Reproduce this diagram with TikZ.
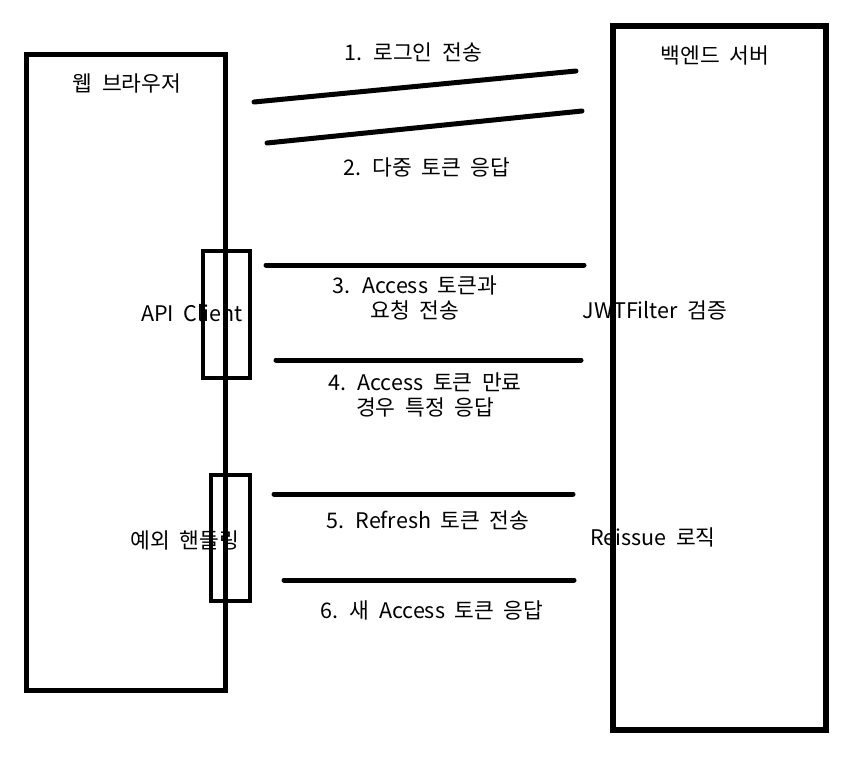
\documentclass[tikz,border=0pt]{standalone}
\usepackage{fontspec}
\setmainfont{Noto Sans CJK KR}[WordSpace=2]
\begin{document}
\begin{tikzpicture}[x=1pt,y=-1pt,
  lbl/.style={font=\fontsize{21.5}{25}\selectfont, inner sep=0pt, align=center},
  bigbox/.style={draw, line width=5.5pt},
  smallbox/.style={draw, line width=4pt},
  msg/.style={line width=5pt, line cap=round}]
\useasboundingbox (0,0) rectangle (860,761);
% texts
\node[lbl] (tb) at (127,83) {웹 브라우저};
\node[lbl] (ts) at (715,55) {백엔드 서버};
\node[lbl] (l1) at (413,52) {1. 로그인 전송};
\node[lbl] (l2) at (427,167) {2. 다중 토큰 응답};
\node[lbl] (l3) at (415,298) {3. Access 토큰과\\요청 전송};
\node[lbl] (l4) at (425,395) {4. Access 토큰 만료\\경우 특정 응답};
\node[lbl] (tapi) at (192,313) {API Client};
\node[lbl] (tjwt) at (655,310) {JWTFilter 검증};
\node[lbl] (texc) at (185,540) {예외 핸들링};
\node[lbl] (l5) at (428,520) {5. Refresh 토큰 전송};
\node[lbl] (l6) at (432,610) {6. 새 Access 토큰 응답};
\node[lbl] (tre) at (653,537) {Reissue 로직};
% boxes
\draw[bigbox] (26.5,54.5) rectangle (225.5,690.5);
\draw[bigbox] (613,26) rectangle (826,730);
\draw[smallbox] (203,251) rectangle (250,378);
\draw[smallbox] (211,475) rectangle (250,601);
% message lines
\coordinate (m1s) at (254,102); \coordinate (m1e) at (576,71);
\coordinate (m2s) at (267,143); \coordinate (m2e) at (582,111);
\coordinate (m3s) at (266,265); \coordinate (m3e) at (584,265);
\coordinate (m4s) at (276,360); \coordinate (m4e) at (581,360);
\coordinate (m5s) at (274,494); \coordinate (m5e) at (573,494);
\coordinate (m6s) at (284,580); \coordinate (m6e) at (574,580);
\draw[msg] (m1s) -- (m1e);
\draw[msg] (m2s) -- (m2e);
\draw[msg] (m3s) -- (m3e);
\draw[msg] (m4s) -- (m4e);
\draw[msg] (m5s) -- (m5e);
\draw[msg] (m6s) -- (m6e);
\end{tikzpicture}
\end{document}
